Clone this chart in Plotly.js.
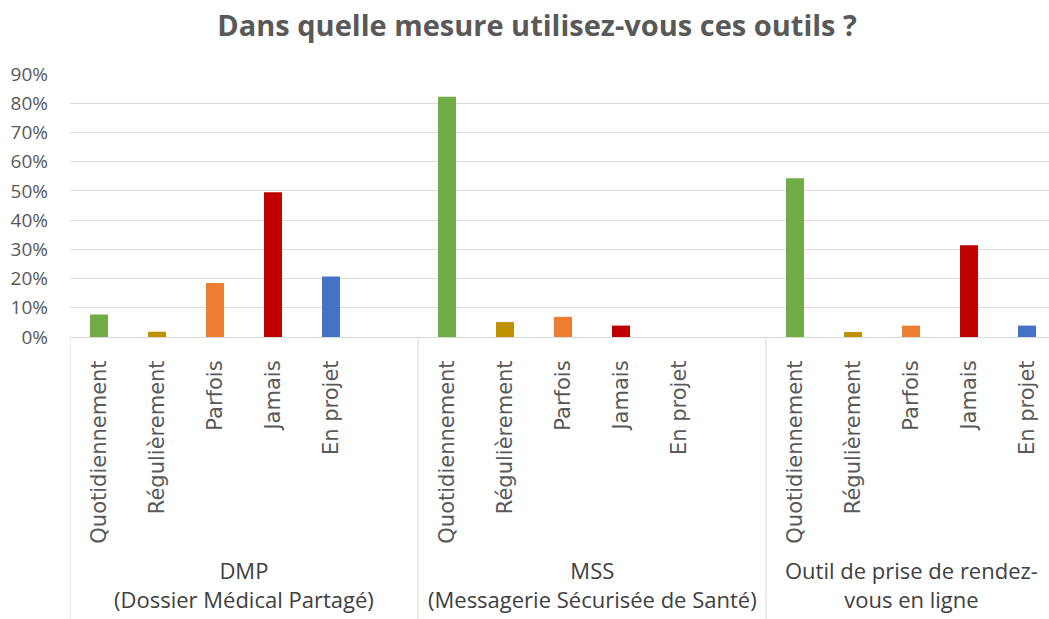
<!DOCTYPE html>
<html>
<head>
<meta charset="utf-8">
<script src="https://cdn.plot.ly/plotly-3.0.1.min.js"></script>
<style>html,body{margin:0;padding:0;background:#fff;}#chart{width:1049px;height:619px;}</style>
</head>
<body>
<div id="chart"></div>
<script>
var title = 'Dans quelle mesure utilisez-vous ces outils ?';
var groups = ['DMP<br>(Dossier Médical Partagé)', 'MSS<br>(Messagerie Sécurisée de Santé)', 'Outil de prise de rendez-<br>vous en ligne'];
var categories = ['Quotidiennement', 'Régulièrement', 'Parfois', 'Jamais', 'En projet'];
var dmpValues = [0.077, 0.018, 0.185, 0.495, 0.207];
var mssValues = [0.822, 0.051, 0.069, 0.039, 0];
var outilValues = [0.543, 0.017, 0.039, 0.314, 0.039];
var colors = ['#70ad47', '#bf9000', '#ed7d31', '#c00000', '#4472c4'];

var seriesByGroup = [dmpValues, mssValues, outilValues];
var slots = categories.length + 1; // one empty slot per group, as in the original

var traces = categories.map(function (cat, i) {
  return {
    type: 'bar',
    name: cat,
    x: groups.map(function (g, gi) { return gi * slots + i; }),
    y: seriesByGroup.map(function (s) { return s[i]; }),
    width: 0.31,
    marker: { color: colors[i], line: { width: 0 } },
    hoverinfo: 'x+y'
  };
});

var tickvals = [], ticktext = [];
groups.forEach(function (g, gi) {
  categories.forEach(function (c, i) { tickvals.push(gi * slots + i); ticktext.push(c); });
});

var shapes = [];
for (var gi = 0; gi <= groups.length; gi++) {
  shapes.push({
    type: 'line', xref: 'x', yref: 'paper',
    x0: gi * slots - 0.5, x1: gi * slots - 0.5, y0: 0, y1: -1.1,
    line: { color: '#d9d9d9', width: 1 }
  });
}

var annotations = groups.map(function (g, gi) {
  return {
    text: g, xref: 'x', yref: 'paper',
    x: gi * slots + (slots - 1) / 2, y: -0.821,
    xanchor: 'center', yanchor: 'top', showarrow: false,
    xshift: gi === groups.length - 1 ? -29 : 0,
    font: { family: 'Open Sans, sans-serif', size: 22, color: '#404040' },
    align: 'center'
  };
});

var layout = {
  width: 1049, height: 619,
  margin: { l: 70, r: 0, t: 74, b: 282, pad: 0 },
  paper_bgcolor: '#ffffff', plot_bgcolor: '#ffffff',
  showlegend: false,
  barmode: 'overlay',
  title: {
    text: '<b>' + title + '</b>',
    xref: 'container', x: 0.512, xanchor: 'center',
    yref: 'container', y: 0.958, yanchor: 'middle',
    font: { family: 'Open Sans, sans-serif', size: 29, color: '#595959' }
  },
  xaxis: {
    range: [-0.5, -0.5 + 979 / 58],
    tickmode: 'array', tickvals: tickvals, ticktext: ticktext,
    tickangle: -90,
    ticklabelstandoff: 14,
    tickfont: { family: 'DejaVu Sans, sans-serif', size: 21, color: '#595959' },
    showline: true, linecolor: '#d9d9d9', linewidth: 1,
    showgrid: false, zeroline: false, ticks: '', fixedrange: true
  },
  yaxis: {
    range: [0, 0.9], dtick: 0.1, tick0: 0,
    tickformat: '.0%',
    ticklabelstandoff: 21,
    tickfont: { family: 'Open Sans, sans-serif', size: 19, color: '#595959' },
    showgrid: true, gridcolor: '#d9d9d9', gridwidth: 1,
    zeroline: false, showline: false, ticks: '', fixedrange: true
  },
  shapes: shapes,
  annotations: annotations
};

Plotly.newPlot('chart', traces, layout, { displayModeBar: false, staticPlot: true });
</script>
</body>
</html>
